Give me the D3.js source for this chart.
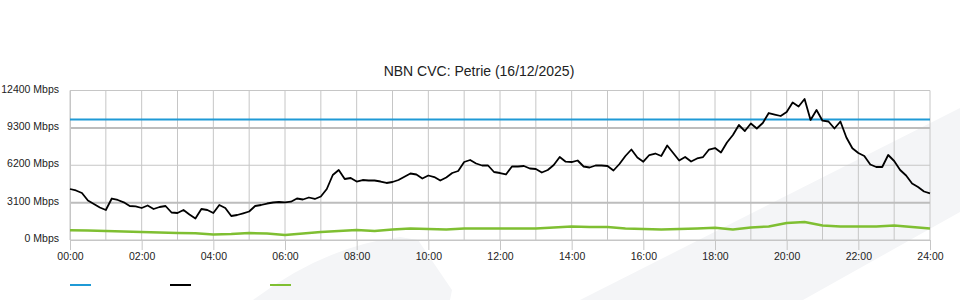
<!DOCTYPE html>
<html>
<head>
<meta charset="utf-8">
<script src="https://cdn.jsdelivr.net/npm/d3@7"></script>
<style>
  html, body { margin: 0; padding: 0; background: #fff; }
  svg { display: block; font-family: "Liberation Sans", Arial, sans-serif; }
</style>
</head>
<body>
<svg id="chart" width="960" height="300"></svg>
<script>
// ---- Data ----
const title = "NBN CVC: Petrie (16/12/2025)";
const yTickValues = [0, 3100, 6200, 9300, 12400];
const xTickHours = [0, 2, 4, 6, 8, 10, 12, 14, 16, 18, 20, 22, 24];
const xTickLabels = ["00:00","02:00","04:00","06:00","08:00","10:00","12:00","14:00","16:00","18:00","20:00","22:00","24:00"];
// Capacity (blue), constant
const capacityValue = 10000;
// Total traffic (black) every 10 minutes, Mbps
const trafficStepMinutes = 10;
const trafficValues = [
  4230,4106,3898,3276,2986,2696,2488,3442,3318,3127,
  2820,2795,2654,2861,2571,2737,2820,2281,2239,2488,
  2115,1783,2571,2488,2239,2903,2654,1991,2074,2214,
  2364,2820,2903,3027,3110,3152,3127,3177,3442,3359,
  3525,3401,3608,4230,5391,5806,5059,5142,4852,4976,
  4935,4935,4852,4728,4811,4976,5250,5516,5433,5101,
  5350,5225,4935,5184,5557,5723,6469,6635,6345,6179,
  6179,5640,5557,5433,6096,6096,6138,5930,5889,5598,
  5806,6221,6884,6494,6469,6594,6096,6013,6179,6179,
  6138,5764,6303,6967,7506,6843,6494,7050,7174,6967,
  7838,7216,6594,6884,6511,6760,6884,7506,7630,7257,
  8087,8709,9538,9040,9663,9248,9704,10533,10409,10285,
  10616,11404,11072,11695,9953,10782,9895,9828,9248,9828,
  8501,7606,7216,6967,6262,6055,6055,7050,6552,5806,
  5350,4686,4396,4023,3873
];
// Secondary traffic (green) every 30 minutes, Mbps
const greenStepMinutes = 30;
const greenValues = [
  800,790,750,700,660,620,580,555,460,500,
  580,540,415,540,660,750,830,750,870,950,
  910,870,950,950,950,950,950,1040,1120,1080,
  1080,950,910,870,910,950,1020,870,1040,1120,
  1410,1490,1200,1120,1120,1120,1200,1080,950
];
const seriesColors = { capacity: "#1f9ad6", traffic: "#000000", green: "#7fbf32" };

// ---- Layout ----
const svg = d3.select("#chart");
const plotLeft = 70, plotRight = 930, plotTop = 90.5, plotBottom = 240;
const x = d3.scaleLinear().domain([0, 24]).range([plotLeft, plotRight]);
const y = d3.scaleLinear().domain([0, 12400]).range([plotBottom, plotTop]);

// Watermark shapes in background
const wm = svg.append("g").attr("fill", "#f4f5f7");
wm.append("path").attr("d", "M253,300 Q325,246 400,237 L418,240 L452,290 L450,300 Z");
wm.append("path").attr("d", "M580,300 L960,108 L960,212 L803,300 Z");

// Grid
const grid = svg.append("g").attr("fill", "none");
grid.selectAll("line.v").data(d3.range(0, 25)).join("line").attr("class", "v")
  .attr("x1", d => x(d)).attr("x2", d => x(d))
  .attr("y1", plotTop).attr("y2", plotBottom)
  .attr("stroke", "#c6c6c6").attr("stroke-width", 1);
grid.selectAll("line.h").data(yTickValues).join("line").attr("class", "h")
  .attr("x1", plotLeft).attr("x2", plotRight)
  .attr("y1", d => y(d)).attr("y2", d => y(d))
  .attr("stroke-width", d => (d === 3100 || d === 9300) ? 2 : 1)
  .attr("stroke", d => (d === 3100 || d === 9300) ? "#bdbdbd" : "#c6c6c6");

// X axis
const xAxis = d3.axisBottom(x).tickValues(xTickHours)
  .tickFormat((d, i) => xTickLabels[i]).tickSize(10).tickPadding(3);
const xg = svg.append("g").attr("transform", `translate(0,${plotBottom})`).call(xAxis);
xg.select(".domain").attr("stroke", "#c6c6c6");
xg.selectAll(".tick line").attr("stroke", "#c6c6c6");
xg.selectAll(".tick text").attr("font-size", 10.5).attr("fill", "#222")
  .attr("font-family", "Liberation Sans, Arial, sans-serif");

// Y axis
const yAxis = d3.axisLeft(y).tickValues(yTickValues)
  .tickFormat(d => d + " Mbps").tickSize(0).tickPadding(11);
const yg = svg.append("g").attr("transform", `translate(${plotLeft},0)`).call(yAxis);
yg.select(".domain").attr("stroke", "#c6c6c6");
yg.selectAll(".tick text").attr("font-size", 10.5).attr("fill", "#222")
  .attr("font-family", "Liberation Sans, Arial, sans-serif")
  .attr("dy", "0.15em");

// Title
svg.append("text").attr("x", 479).attr("y", 76).attr("text-anchor", "middle")
  .attr("font-size", 14).attr("fill", "#222").text(title);

// Lines
const lineGen = d3.line().x(d => x(d[0])).y(d => y(d[1]));
const trafficData = trafficValues.map((v, i) => [i * trafficStepMinutes / 60, v]);
const greenData = greenValues.map((v, i) => [i * greenStepMinutes / 60, v]);
const capData = [[0, capacityValue], [24, capacityValue]];

svg.append("path").datum(greenData).attr("d", lineGen)
  .attr("fill", "none").attr("stroke", seriesColors.green).attr("stroke-width", 2.5)
  .attr("stroke-linejoin", "round");
svg.append("path").datum(capData).attr("d", lineGen)
  .attr("fill", "none").attr("stroke", seriesColors.capacity).attr("stroke-width", 2);
svg.append("path").datum(trafficData).attr("d", lineGen)
  .attr("fill", "none").attr("stroke", seriesColors.traffic).attr("stroke-width", 1.8)
  .attr("stroke-linejoin", "round");

// Legend (line swatches only)
const legendItems = [seriesColors.capacity, seriesColors.traffic, seriesColors.green];
svg.append("g").selectAll("line").data(legendItems).join("line")
  .attr("x1", (d, i) => 70 + i * 100).attr("x2", (d, i) => 91 + i * 100)
  .attr("y1", 285).attr("y2", 285)
  .attr("stroke", d => d).attr("stroke-width", 2);
</script>
</body>
</html>
